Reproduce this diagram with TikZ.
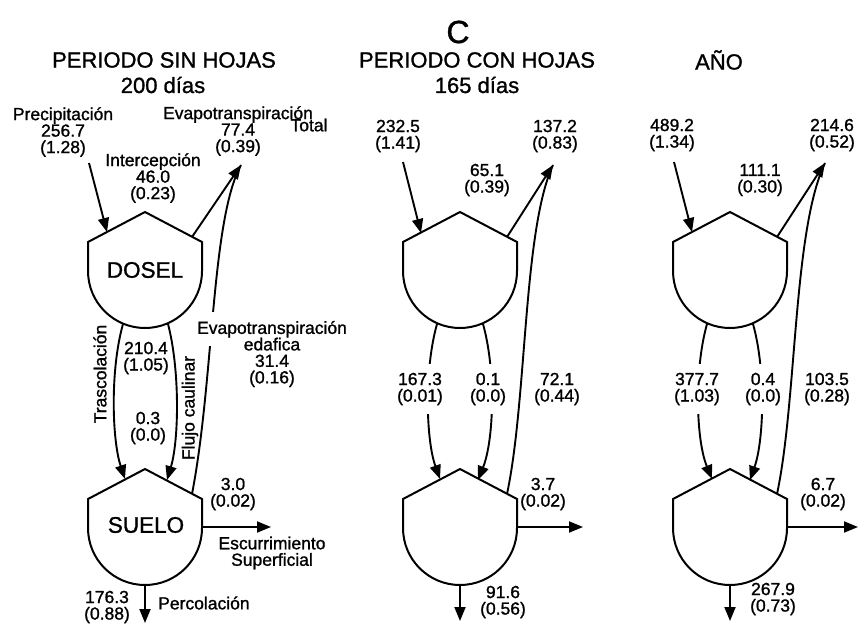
\documentclass[tikz,border=0pt]{standalone}
\usepackage{fontspec}
\setmainfont{Liberation Sans}[FakeBold=1.2]
\usetikzlibrary{arrows.meta}
\begin{document}
\begin{tikzpicture}[x=1pt,y=-1pt,
  shp/.style={line width=2pt, line join=miter},
  flow/.style={line width=1.9pt, -{Triangle[length=14pt,width=11pt]}},
  plain/.style={line width=1.9pt},
  lbl/.style={font=\fontsize{17.5}{16.5}\selectfont, align=center, inner sep=1pt},
  gap/.style={lbl, fill=white, inner ysep=9pt},
  head/.style={font=\fontsize{22}{26}\selectfont, align=center, inner sep=0pt},
  boxtxt/.style={font=\fontsize{22.5}{24}\selectfont, inner sep=0pt},
  hc/.pic={\draw[shp] (0,0) -- (57,30) -- (57,59) arc[start angle=0,end angle=-180,radius=57pt] -- (-57,30) -- cycle;}]
\useasboundingbox (0,0) rectangle (866,642);

% headings
\node[head, font=\fontsize{32}{34}\selectfont] (hC) at (458,32) {C};
\node[head] (h1) at (164,60) {PERIODO SIN HOJAS};
\node[head] (h1b) at (163,85) {200 días};
\node[head] (h2) at (477,60) {PERIODO CON HOJAS};
\node[head] (h2b) at (477,85) {165 días};
\node[head] (h3) at (719,60) {AÑO};

% shapes
\foreach \cx in {145,460,730}{
  \pic at (\cx,212) {hc};
  \pic at (\cx,469) {hc};
}
\node[boxtxt] (dosel) at (145,270) {DOSEL};
\node[boxtxt] (suelo) at (146,525) {SUELO};

% ================= left column =================
\node[lbl] (pr1) at (63,132) {Precipitación\\256.7\\(1.28)};
\node[lbl] (et1) at (238,131) {Evapotranspiración\\77.4\\(0.39)};
\node[lbl] (et1c) at (309,125) {Total};
\node[lbl] (in1) at (153,178) {Intercepción\\46.0\\(0.23)};

\coordinate (p1s) at (89,163);   \coordinate (p1e) at (107,232);
\coordinate (r1d) at (192,237);  \coordinate (r1s) at (192,494);
\coordinate (et1t) at (241,165);
\coordinate (t1s) at (123,324);  \coordinate (t1e) at (125,479);
\coordinate (f1s) at (168,324);  \coordinate (f1e) at (167,480);
\coordinate (e1s) at (202,527);  \coordinate (e1e) at (271,527);
\coordinate (q1s) at (145,585);  \coordinate (q1e) at (145,623);

\draw[flow] (p1s) -- (p1e);
\draw[plain] (r1s) .. controls (214,380) and (211,220) .. (et1t);
\draw[flow] (r1d) -- (et1t);
\draw[flow] (t1s) .. controls (110,370) and (112,440) .. (t1e);
\draw[flow] (f1s) .. controls (180,370) and (179,440) .. (f1e);
\draw[flow] (e1s) -- (e1e);
\draw[flow] (q1s) -- (q1e);
\fill[white] (204,312) rectangle (222,346);

\node[lbl] (tr1v) at (146,358) {210.4\\(1.05)};
\node[lbl] (fc1v) at (148,428) {0.3\\(0.0)};
\node[lbl, rotate=90] (tr1) at (100,374) {Trascolación};
\node[lbl, rotate=90] (fc1) at (190,408) {Flujo caulinar};
\node[lbl] (ed1) at (272,354) {Evapotranspiración\\edafica\\31.4\\(0.16)};
\node[lbl] (es1v) at (233,494) {3.0\\(0.02)};
\node[lbl] (es1) at (272,553) {Escurrimiento\\Superficial};
\node[lbl] (pc1v) at (107,607) {176.3\\(0.88)};
\node[lbl, anchor=west] (pc1) at (157,603) {Percolación};

% ================= middle column =================
\node[lbl] (pr2) at (398,136) {232.5\\(1.41)};
\node[lbl] (in2) at (487,180) {65.1\\(0.39)};
\node[lbl] (et2) at (555,136) {137.2\\(0.83)};

\coordinate (p2s) at (403,162);  \coordinate (p2e) at (421,233);
\coordinate (r2d) at (507,237);  \coordinate (r2s) at (507,494);
\coordinate (et2t) at (553,165);
\coordinate (t2s) at (437,324);  \coordinate (t2e) at (440,479);
\coordinate (f2s) at (483,324);  \coordinate (f2e) at (478,480);
\coordinate (e2s) at (517,527);  \coordinate (e2e) at (583,527);
\coordinate (q2s) at (460,585);  \coordinate (q2e) at (460,621);

\draw[flow] (p2s) -- (p2e);
\draw[plain] (r2s) .. controls (527,400) and (523,230) .. (et2t);
\draw[flow] (r2d) -- (et2t);
\draw[flow] (t2s) .. controls (424,370) and (426,440) .. (t2e);
\draw[flow] (f2s) .. controls (496,370) and (494,440) .. (f2e);
\draw[flow] (e2s) -- (e2e);
\draw[flow] (q2s) -- (q2e);

\node[gap] (tr2v) at (420,389) {167.3\\(0.01)};
\node[gap] (fc2v) at (488,389) {0.1\\(0.0)};
\node[lbl] (ed2v) at (557,389) {72.1\\(0.44)};
\node[lbl] (es2v) at (543,494) {3.7\\(0.02)};
\node[lbl] (pc2v) at (503,602) {91.6\\(0.56)};

% ================= right column =================
\node[lbl] (pr3) at (672,135) {489.2\\(1.34)};
\node[lbl] (in3) at (760,180) {111.1\\(0.30)};
\node[lbl] (et3) at (832,135) {214.6\\(0.52)};

\coordinate (p3s) at (674,162);  \coordinate (p3e) at (692,232);
\coordinate (r3d) at (777,237);  \coordinate (r3s) at (777,494);
\coordinate (et3t) at (825,163);
\coordinate (t3s) at (707,324);  \coordinate (t3e) at (712,479);
\coordinate (f3s) at (753,324);  \coordinate (f3e) at (750,480);
\coordinate (e3s) at (787,527);  \coordinate (e3e) at (858,527);
\coordinate (q3s) at (730,585);  \coordinate (q3e) at (730,621);

\draw[flow] (p3s) -- (p3e);
\draw[plain] (r3s) .. controls (797,400) and (793,230) .. (et3t);
\draw[flow] (r3d) -- (et3t);
\draw[flow] (t3s) .. controls (694,370) and (696,440) .. (t3e);
\draw[flow] (f3s) .. controls (766,370) and (764,440) .. (f3e);
\draw[flow] (e3s) -- (e3e);
\draw[flow] (q3s) -- (q3e);

\node[gap] (tr3v) at (697,389) {377.7\\(1.03)};
\node[gap] (fc3v) at (763,389) {0.4\\(0.0)};
\node[lbl] (ed3v) at (827,389) {103.5\\(0.28)};
\node[lbl] (es3v) at (823,494) {6.7\\(0.02)};
\node[lbl] (pc3v) at (773,599) {267.9\\(0.73)};
\end{tikzpicture}
\end{document}
